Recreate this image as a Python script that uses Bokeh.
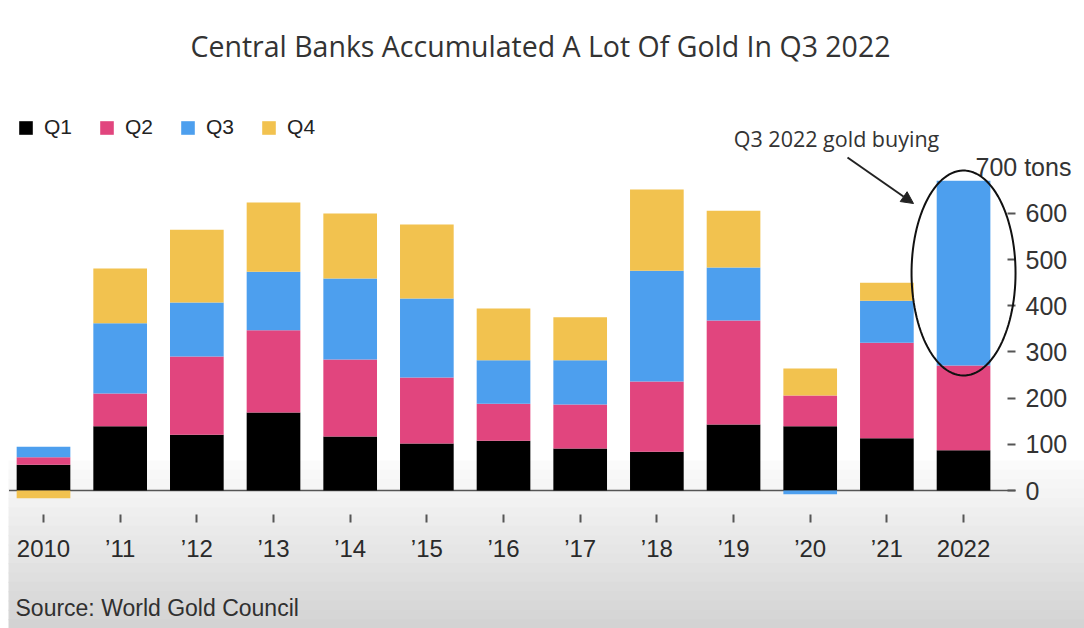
import numpy as np
from bokeh.plotting import figure
from bokeh.models import (ColumnDataSource, Range1d, FixedTicker, LinearAxis, Label,
                          Arrow, NormalHead, BoxAnnotation, Legend, LegendItem, PolyAnnotation)
from bokeh.embed import file_html
from bokeh.resources import INLINE

# ---------------- data (tons) ----------------
years = ["2010", "’11", "’12", "’13", "’14", "’15", "’16", "’17", "’18", "’19", "’20", "’21", "2022"]
q1 = [56, 139, 121, 169, 117, 102, 108, 91, 84, 143, 139, 113, 87]
q2 = [16, 71, 169, 178, 167, 143, 80, 95, 152, 225, 67, 207, 184]
q3 = [23, 152, 117, 127, 175, 171, 94, 96, 240, 115, -8, 91, 400]
q4 = [-17, 119, 158, 150, 141, 160, 112, 93, 176, 123, 58, 39, 0]
quarters = ["Q1", "Q2", "Q3", "Q4"]
y_ticks = [0, 100, 200, 300, 400, 500, 600]
unit_value = 700
unit_label = "700 tons"
title_text = "Central Banks Accumulated A Lot Of Gold In Q3 2022"
source_text = "Source: World Gold Council"
note_text = "Q3 2022 gold buying"

colors = ["#000000", "#e1457e", "#4d9fee", "#f2c24f"]

# ---------------- layout constants (pixels) ----------------
W, H = 1084, 628
PX_PER_UNIT = 0.4617      # pixels per ton
PX_PER_CAT = 76.67        # pixels per year slot
ZERO_PX = 490             # canvas y of 0 tons
FIRST_PX = 43             # canvas x of first bar centre
YAXIS_PX = 1015           # canvas x of the right axis line
XAXIS_PX = 514            # canvas y of the bottom axis line

x_start = -FIRST_PX / PX_PER_CAT
x_end = x_start + W / PX_PER_CAT
y_start = -(H - ZERO_PX) / PX_PER_UNIT
y_end = ZERO_PX / PX_PER_UNIT

p = figure(width=W, height=H, output_backend="svg", toolbar_location=None,
           x_range=Range1d(x_start, x_end), y_range=Range1d(y_start, y_end),
           min_border=0, min_border_left=0, min_border_right=0,
           min_border_top=0, min_border_bottom=0,
           x_axis_location=None, y_axis_location=None)
p.outline_line_color = None
p.grid.visible = False
p.background_fill_color = "#ffffff"
p.border_fill_color = "#ffffff"

# soft grey gradient at the bottom (styling bands, canvas pixel units)
g0, g1 = 460, H
nb = 18
edges = np.linspace(g0, g1, nb + 1)
for i in range(nb):
    t = (i + 0.5) / nb
    v = int(round(252 - 42 * t))
    col = "#%02x%02x%02x" % (v, v, v)
    p.add_layout(BoxAnnotation(left=8, right=W,
                               top=edges[i], bottom=edges[i + 1] + 1,
                               left_units="canvas", right_units="canvas",
                               top_units="canvas", bottom_units="canvas",
                               fill_color=col, fill_alpha=1.0, line_color=None,
                               level="underlay"))

# ---------------- stacked bars (positive up, negative down) ----------------
x = np.arange(len(years))
pos = np.zeros(len(years))
neg = np.zeros(len(years))
renderers = []
bar_w = 0.7
yaxis_x = x_start + YAXIS_PX / PX_PER_CAT
xaxis_y = -(XAXIS_PX - ZERO_PX) / PX_PER_UNIT

# zero baseline from the first bar to the value axis
p.segment(x0=[x[0] - bar_w / 2 - 0.1], x1=[yaxis_x], y0=[0], y1=[0],
          line_color="#555555", line_width=1.5)

for q, vals, c in zip(quarters, [q1, q2, q3, q4], colors):
    v = np.array(vals, dtype=float)
    bottom = np.where(v >= 0, pos, neg)
    top = bottom + v
    pos = np.where(v >= 0, top, pos)
    neg = np.where(v < 0, top, neg)
    src = ColumnDataSource(dict(x=x, bottom=bottom, top=top))
    r = p.vbar(x="x", bottom="bottom", top="top", width=bar_w, source=src,
               fill_color=c, line_color=None)
    renderers.append(r)

# ---------------- axes (fixed inside the canvas) ----------------
ax_r = LinearAxis(ticker=FixedTicker(ticks=y_ticks), axis_line_color=None,
                  fixed_location=yaxis_x,
                  major_tick_in=8, major_tick_out=0, major_tick_line_color="#555555",
                  major_tick_line_width=2, minor_tick_line_color=None,
                  major_label_text_font="Liberation Sans", major_label_text_font_size="25px",
                  major_label_text_color="#333333", major_label_standoff=10)
p.add_layout(ax_r, "right")

ax_b = LinearAxis(ticker=FixedTicker(ticks=list(range(len(years)))),
                  major_label_overrides={i: lab for i, lab in enumerate(years)},
                  fixed_location=xaxis_y,
                  axis_line_color=None, major_tick_in=0, major_tick_out=8,
                  major_tick_line_color="#555555", major_tick_line_width=2,
                  minor_tick_line_color=None,
                  major_label_text_font="Liberation Sans", major_label_text_font_size="24px",
                  major_label_text_color="#2a2a2a", major_label_standoff=12)
p.add_layout(ax_b, "below")

p.add_layout(Label(x=975, y=unit_value, x_units="canvas", y_units="data",
                   text=unit_label, text_font="Liberation Sans", text_font_size="25px",
                   text_color="#333333", text_align="left", text_baseline="middle"))

# ---------------- legend ----------------
legend = Legend(items=[LegendItem(label=q, renderers=[r]) for q, r in zip(quarters, renderers)],
                location=(17, H - 139), orientation="horizontal",
                glyph_width=17, glyph_height=17, label_standoff=10, spacing=26,
                padding=0, margin=0, border_line_color=None, background_fill_alpha=0,
                label_text_font="Liberation Sans", label_text_font_size="21px",
                label_text_color="#222222")
p.add_layout(legend)

# ---------------- annotations ----------------
p.add_layout(Label(x=540, y=45, x_units="canvas", y_units="canvas",
                   text=title_text, text_font="Open Sans", text_font_size="28.5px",
                   text_color="#333333", text_align="center", text_baseline="middle"))
p.add_layout(Label(x=15, y=607, x_units="canvas", y_units="canvas",
                   text=source_text, text_font="Liberation Sans", text_font_size="23px",
                   text_color="#303030", text_align="left", text_baseline="middle"))
p.add_layout(Label(x=836, y=138, x_units="canvas", y_units="canvas",
                   text=note_text, text_font="Open Sans", text_font_size="21.5px",
                   text_color="#333333", text_align="center", text_baseline="middle"))

p.add_layout(Arrow(end=NormalHead(size=12, fill_color="#222222", line_color="#222222"),
                   x_start=847, y_start=H - 157, x_end=913, y_end=H - 203,
                   start_units="screen", end_units="screen",
                   line_color="#222222", line_width=2))

# ellipse around 2022 Q3
i22 = len(years) - 1
cy = q1[i22] + q2[i22] + q3[i22] / 2.0
ry = q3[i22] * 0.555
rx = 52 / PX_PER_CAT
th = np.linspace(0, 2 * np.pi, 120)
p.add_layout(PolyAnnotation(xs=list(i22 + rx * np.cos(th)), ys=list(cy + ry * np.sin(th)),
                            xs_units="data", ys_units="data",
                            fill_alpha=0, line_color="#111111", line_alpha=1.0, line_width=2))

open("out.html", "w").write(file_html(p, INLINE))
